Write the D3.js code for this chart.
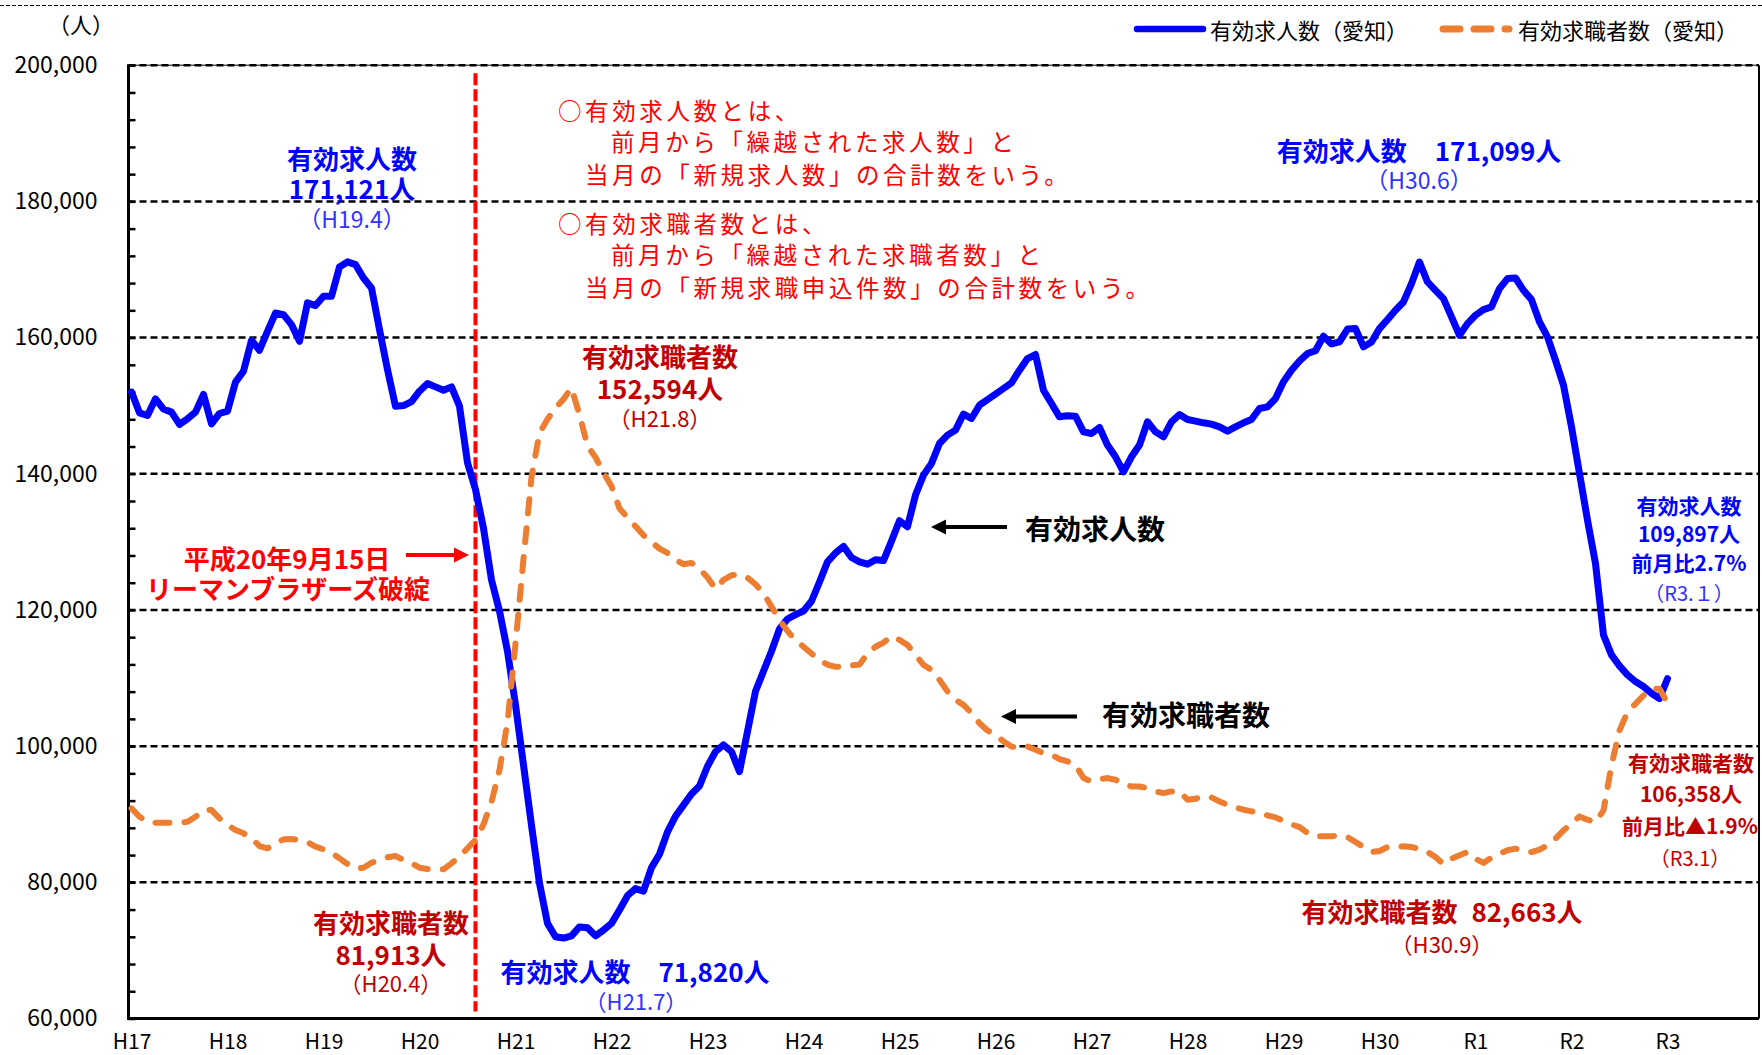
<!DOCTYPE html>
<html><head><meta charset="utf-8">
<script src="https://cdn.jsdelivr.net/npm/d3@7"></script>
<style>
html,body{margin:0;padding:0;background:#fff;}
svg{display:block;}
text{font-family:"Noto Sans CJK JP","Noto Sans",sans-serif;}
</style></head><body>
<svg id="chart" width="1762" height="1055"></svg>
<script>
// ---- data (monthly, H17.1 .. R3.1) ----
const yearLabels = ["H17","H18","H19","H20","H21","H22","H23","H24","H25","H26","H27","H28","H29","H30","R1","R2","R3"];
const jobOpenings = [
152000,148950,148560,151000,149500,149050,147240,148070,149050,151640,147330,148850,
149200,153450,155060,159600,158140,160900,163600,163370,161900,159460,165090,164700,
166060,166060,170370,171121,170710,168750,167290,161170,155300,149920,150020,150600,
152130,153250,152760,152270,152760,149920,141600,137700,132000,124420,119840,113940,
106080,97230,88390,79870,73970,72000,71820,72140,73450,73320,72140,72990,
73970,75940,78030,79080,78690,82160,84130,87400,89700,91340,92970,94150,
97040,99200,100180,99200,96250,102150,108050,111000,113940,117220,118670,119310,
119840,121280,124100,127060,128360,129340,127700,127060,126720,127380,127250,130100,
133100,132220,136870,139800,141520,144450,145670,146410,148750,148120,150070,150900,
151690,152520,153350,155210,156920,157510,152270,150320,148360,148510,148460,146160,
145920,146800,144210,142490,140290,142490,144210,147630,146160,145430,147630,148700,
147970,147730,147480,147290,146890,146260,146890,147480,147970,149580,149830,151050,
153500,155210,156550,157650,158070,160200,159070,159360,161250,161320,158630,159360,
161320,162640,164010,165230,167920,171099,168170,166940,165720,163030,160340,162050,
163280,164110,164500,167190,168660,168750,166940,165570,162300,160100,156670,153010,
146900,140050,133200,126850,116330,113400,111780,110460,109480,108750,107770,107000,
109897];
const jobSeekers = [
90860,89630,88900,88750,88750,88750,88750,88900,89630,90610,90610,89390,
88410,87680,87190,86450,85330,84990,85720,86310,86360,86210,85870,85230,
84840,84350,83520,82690,82050,82150,82880,83280,83670,83860,83280,82790,
82150,81950,81930,81913,82790,83770,84990,86210,88500,91800,96500,103500,
115000,127500,139500,146000,148000,149650,150960,152594,148670,144080,142440,140150,
138180,134900,133590,132290,130980,129990,129010,128350,127370,126720,126910,126060,
124750,123110,124420,125080,125210,124750,123770,122460,120490,118530,116890,115580,
114590,113610,112630,111970,111650,111650,111840,111970,113610,114590,115200,116150,
115600,114860,113400,111930,111200,109730,108020,106800,106060,104840,103370,102300,
101660,100690,99950,99710,99950,99460,98970,98730,98090,97750,97260,95310,
94810,95160,95310,95060,94430,94080,94080,93840,93350,93100,93350,93350,
92130,92270,92620,92470,91880,91390,91000,90660,90420,90170,89830,89540,
89000,88500,88120,87240,86750,86750,86750,86900,86650,85920,85180,84450,
84600,85180,85180,85280,85180,84940,84450,83720,82663,83470,83960,84450,
83470,82840,83620,84210,84700,84940,84600,84450,84790,85430,86410,87630,
88610,89680,89190,88850,90560,97160,102300,104990,106210,107430,108410,108420,
106358];
const yGridValues = [80000,100000,120000,140000,160000,180000,200000];
const yLabelValues = [60000,80000,100000,120000,140000,160000,180000,200000];
const lehmanMonth = 43;
const seriesNames = ["有効求人数（愛知）","有効求職者数（愛知）"];

// ---- layout ----
const svg = d3.select("#chart");
const L = 128.5, R = 1759, T = 65.2, B = 1018.5;
const BLUE = "#0000FF", LBLUE = "#3333FF", ORANGE = "#ED7D31", DRED = "#C00000", RED = "#FF0000";
const x = d3.scaleLinear().domain([-0.375, 203.44]).range([L, R]);
const y = d3.scaleLinear().domain([60000, 200000]).range([B, T]);

// top thin dashed frame line
svg.append("line").attr("x1",0).attr("x2",1762).attr("y1",5.5).attr("y2",5.5)
  .attr("stroke","#000").attr("stroke-width",1).attr("stroke-dasharray","4,2");

// plot frame top/right
svg.append("line").attr("x1",L).attr("x2",R).attr("y1",T).attr("y2",T).attr("stroke","#000").attr("stroke-width",1);
svg.append("line").attr("x1",R).attr("x2",R).attr("y1",T).attr("y2",B).attr("stroke","#000").attr("stroke-width",2);

// gridlines
svg.append("g").selectAll("line").data(yGridValues).join("line")
  .attr("x1",L).attr("x2",R).attr("y1",d=>y(d)).attr("y2",d=>y(d))
  .attr("stroke","#000").attr("stroke-width",2.5).attr("stroke-dasharray","7,4");

// y axis labels
const yAxis = d3.axisLeft(y).tickValues(yLabelValues).tickFormat(d3.format(",")).tickSize(0).tickPadding(31);
const gy = svg.append("g").attr("transform",`translate(${L},0)`).call(yAxis);
gy.select(".domain").remove();
gy.selectAll("text").attr("font-size",23).attr("fill","#000").style("font-family",'"Noto Sans CJK JP",sans-serif');

// minor ticks
const yMinor = d3.axisRight(y).tickValues(d3.range(60000,200001,4000)).tickSize(7).tickFormat("");
const gm = svg.append("g").attr("transform",`translate(${L},0)`).call(yMinor);
gm.select(".domain").remove();
gm.selectAll("line").attr("stroke","#000").attr("stroke-width",2.5);

// x axis labels
const xAxis = d3.axisBottom(x).tickValues(d3.range(0,193,12)).tickFormat((d,i)=>yearLabels[i]).tickSize(0).tickPadding(15.5);
const gx = svg.append("g").attr("transform",`translate(0,${B})`).call(xAxis);
gx.select(".domain").remove();
gx.selectAll("text").attr("font-size",21).attr("fill","#000").style("font-family",'"Noto Sans CJK JP",sans-serif');

// axes lines
svg.append("line").attr("x1",L).attr("x2",L).attr("y1",T-1).attr("y2",B+1.5).attr("stroke","#000").attr("stroke-width",3);
svg.append("line").attr("x1",L-1.5).attr("x2",R).attr("y1",B).attr("y2",B).attr("stroke","#000").attr("stroke-width",3);

// Lehman line
svg.append("line").attr("x1",x(lehmanMonth)).attr("x2",x(lehmanMonth))
  .attr("y1",y(200000)+8).attr("y2",y(60000)-7)
  .attr("stroke",RED).attr("stroke-width",4).attr("stroke-dasharray","12,4");

// series
const line = d3.line().x((d,i)=>x(i)).y(d=>y(d));
svg.append("path").datum(jobOpenings).attr("d",line).attr("fill","none")
  .attr("stroke",BLUE).attr("stroke-width",7).attr("stroke-linejoin","round").attr("stroke-linecap","round");
svg.append("path").datum(jobSeekers).attr("d",line).attr("fill","none")
  .attr("stroke",ORANGE).attr("stroke-width",6).attr("stroke-linejoin","round").attr("stroke-linecap","round")
  .attr("stroke-dasharray","14,15");

// legend
svg.append("line").attr("x1",1137).attr("x2",1203).attr("y1",29).attr("y2",29)
  .attr("stroke",BLUE).attr("stroke-width",6.5).attr("stroke-linecap","round");
svg.append("text").attr("x",1210).attr("y",29).attr("dominant-baseline","central")
  .attr("font-size",22).attr("fill","#000").text(seriesNames[0]);
svg.append("line").attr("x1",1443).attr("x2",1509).attr("y1",29).attr("y2",29)
  .attr("stroke",ORANGE).attr("stroke-width",7).attr("stroke-linecap","round").attr("stroke-dasharray","17,14");
svg.append("text").attr("x",1518).attr("y",29).attr("dominant-baseline","central")
  .attr("font-size",22).attr("fill","#000").text(seriesNames[1]);

// unit label
svg.append("text").attr("x",81).attr("y",23).attr("text-anchor","middle").attr("dominant-baseline","central")
  .attr("font-size",22).attr("fill","#000").text("（人）");

// multi-line text block: one <text>, one tspan per line
function block(tx, lines, anchor){
  const t = svg.append("text").attr("text-anchor",anchor||"middle").attr("dominant-baseline","central");
  lines.forEach(l=>{
    const parts = Array.isArray(l.t) ? l.t : [l.t];
    parts.forEach((p,i)=>{
      const ts = t.append("tspan").text(p)
        .attr("font-size",l.size).attr("font-weight",l.bold?"bold":"normal").attr("fill",l.color)
        .attr("dominant-baseline","central");
      if (i===0) { ts.attr("x", l.x!==undefined ? l.x : tx).attr("y", l.y); }
      else ts.attr("dx", l.gap||0);
      if (l.ls) ts.attr("letter-spacing", l.ls);
    });
  });
  return t;
}
function arrow(x1, x2, yy, color){
  const dir = x2 > x1 ? 1 : -1;
  const hl = 15, hh = 7.5;
  svg.append("line").attr("x1",x1).attr("x2",x2 - dir*hl*0.6).attr("y1",yy).attr("y2",yy)
    .attr("stroke",color).attr("stroke-width",4);
  svg.append("path").attr("d",`M${x2},${yy} L${x2-dir*hl},${yy-hh} L${x2-dir*hl},${yy+hh} Z`).attr("fill",color);
}

// annotations – peaks/troughs
block(352,[
  {y:157,t:"有効求人数",size:26,bold:true,color:BLUE},
  {y:187,t:"171,121人",size:26,bold:true,color:BLUE},
  {y:218,t:"（H19.4）",size:23,color:LBLUE}]);

block(1419,[
  {y:149,t:["有効求人数","171,099人"],size:26,bold:true,color:BLUE,gap:28},
  {y:179,t:"（H30.6）",size:23,color:LBLUE}]);

block(660,[
  {y:355,t:"有効求職者数",size:26,bold:true,color:DRED},
  {y:387,t:"152,594人",size:26,bold:true,color:DRED},
  {y:417,t:"（H21.8）",size:22,color:DRED}]);

block(391,[
  {y:921,t:"有効求職者数",size:26,bold:true,color:DRED},
  {y:953,t:"81,913人",size:26,bold:true,color:DRED},
  {y:982,t:"（H20.4）",size:22,color:DRED}]);

block(635,[
  {y:970,t:["有効求人数","71,820人"],size:26,bold:true,color:BLUE,gap:28},
  {y:1000,x:636,t:"（H21.7）",size:22,color:LBLUE}]);

block(1442,[
  {y:910,t:["有効求職者数","82,663人"],size:26,bold:true,color:DRED,gap:14},
  {y:943,t:"（H30.9）",size:22,color:DRED}]);

// right side annotations
block(1689,[
  {y:505,t:"有効求人数",size:21,bold:true,color:BLUE},
  {y:533,t:"109,897人",size:21,bold:true,color:BLUE},
  {y:562,t:"前月比2.7%",size:21,bold:true,color:BLUE},
  {y:592,t:"（R3.１）",size:20,color:LBLUE}]);

block(1690,[
  {y:762,x:1691,t:"有効求職者数",size:21,bold:true,color:DRED},
  {y:793,x:1691,t:"106,358人",size:21,bold:true,color:DRED},
  {y:825,t:"前月比▲1.9%",size:21,bold:true,color:DRED},
  {y:857,t:"（R3.1）",size:20,color:DRED}]);

// definitions
block(0,[
  {x:558,y:110,t:"○有効求人数とは、",size:23.5,color:RED,ls:3.6},
  {x:611,y:140.5,t:"前月から「繰越された求人数」と",size:23.5,color:RED,ls:3.6},
  {x:585,y:174,t:"当月の「新規求人数」の合計数をいう。",size:23.5,color:RED,ls:3.6},
  {x:558,y:222.5,t:"○有効求職者数とは、",size:23.5,color:RED,ls:3.6},
  {x:611,y:254,t:"前月から「繰越された求職者数」と",size:23.5,color:RED,ls:3.6},
  {x:585,y:286.5,t:"当月の「新規求職申込件数」の合計数をいう。",size:23.5,color:RED,ls:3.6}
],"start");

// Lehman annotation
block(287,[
  {y:557,t:"平成20年9月15日",size:26,bold:true,color:RED},
  {y:587,x:288,t:"リーマンブラザーズ破綻",size:26,bold:true,color:RED}]);
arrow(406,469,555,RED);

// series pointers
arrow(1007,931,527,"#000");
block(1095,[{y:528,t:"有効求人数",size:28,bold:true,color:"#000"}]);
arrow(1077,1001,716.5,"#000");
block(1186,[{y:714,t:"有効求職者数",size:28,bold:true,color:"#000"}]);
</script>
</body></html>
